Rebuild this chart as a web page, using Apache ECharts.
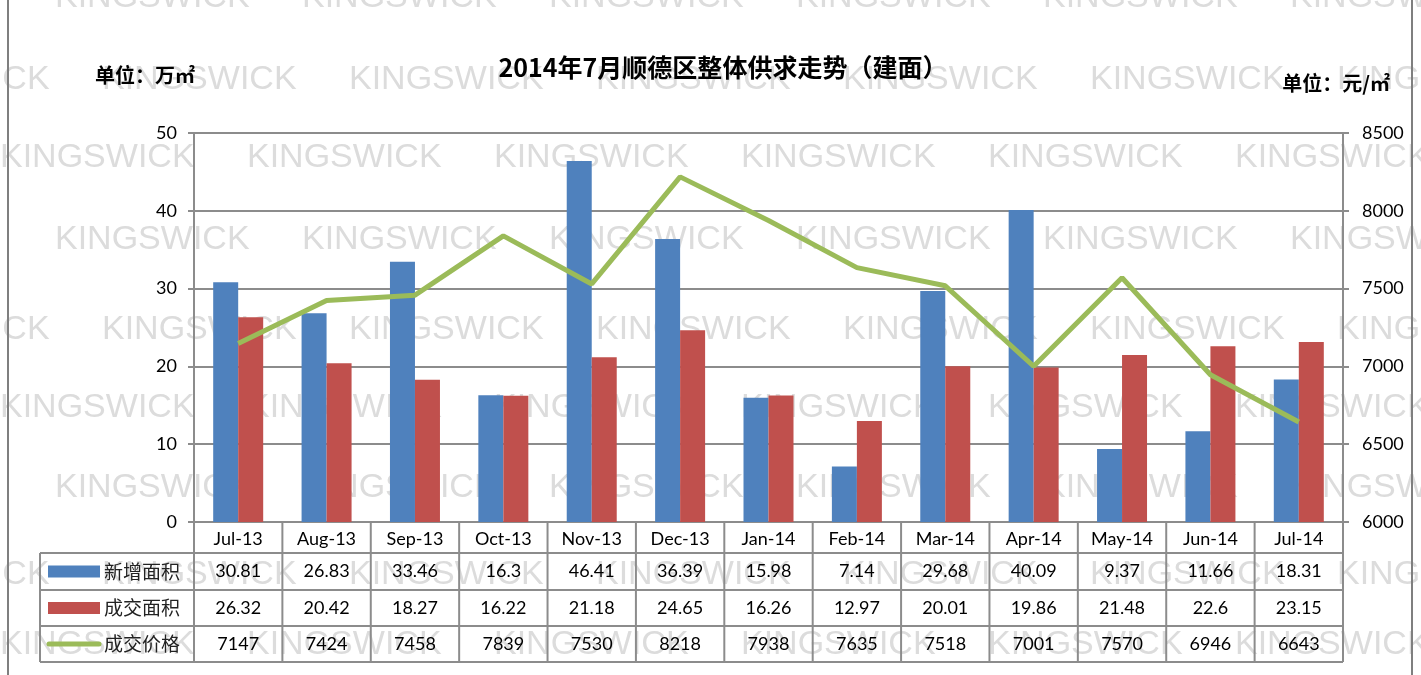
<!DOCTYPE html>
<html lang="zh">
<head>
    <meta charset="UTF-8">
    <script src="https://cdn.jsdelivr.net/npm/echarts@6/dist/echarts.min.js"></script>
    <style>
        html, body { margin: 0; padding: 0; background: #fff; }
        #main { width: 1421px; height: 675px; }
    </style>
</head>
<body>
<div id="main"></div>
<script>
    // 月份
    var months = ['Jul-13', 'Aug-13', 'Sep-13', 'Oct-13', 'Nov-13', 'Dec-13', 'Jan-14',
        'Feb-14', 'Mar-14', 'Apr-14', 'May-14', 'Jun-14', 'Jul-14'];
    // 新增面积（万㎡）
    var newArea = [30.81, 26.83, 33.46, 16.3, 46.41, 36.39, 15.98, 7.14, 29.68, 40.09, 9.37, 11.66, 18.31];
    // 成交面积（万㎡）
    var dealArea = [26.32, 20.42, 18.27, 16.22, 21.18, 24.65, 16.26, 12.97, 20.01, 19.86, 21.48, 22.6, 23.15];
    // 成交价格（元/㎡）
    var dealPrice = [7147, 7424, 7458, 7839, 7530, 8218, 7938, 7635, 7518, 7001, 7570, 6946, 6643];
    var seriesNames = ['新增面积', '成交面积', '成交价格'];

    var BLUE = '#4F81BD', RED = '#C0504D', GREEN = '#9BBB59';
    var LINE = '#8c8c8c';
    var FONT = 'Lato, "Open Sans", sans-serif';
    var CJK = '"Noto Sans CJK SC", sans-serif';

    // 版面
    var GL = 194, GR = 1343, GT = 133, GB = 522;
    var step = (GR - GL) / months.length;
    var rowTops = [553, 590, 626, 662];
    var tableLeft = 40;

    var graphics = [];

    // 水印 KINGSWICK
    var wmRows = [[-2, 55], [80, -145], [158, 0], [240, 55], [330, -145], [408, 0], [488, 55], [575, -145], [645, 0]];
    wmRows.forEach(function (r) {
        for (var x = r[1]; x < 1421; x += 247) {
            graphics.push({
                type: 'text', z: -10, silent: true,
                x: x, y: r[0],
                style: {
                    text: 'KINGSWICK', fill: '#dcdcdc',
                    font: '34px "Liberation Sans", Arial, sans-serif',
                    textVerticalAlign: 'middle'
                }
            });
        }
    });

    // 外框左右线
    graphics.push({type: 'line', z: 50, shape: {x1: 8, y1: 0, x2: 8, y2: 675}, style: {stroke: '#7f7f7f', lineWidth: 2}});
    graphics.push({type: 'line', z: 50, shape: {x1: 1412, y1: 0, x2: 1412, y2: 675}, style: {stroke: '#7f7f7f', lineWidth: 2}});

    // 单位
    graphics.push({type: 'text', z: 50, x: 95, y: 75, style: {text: '单位：万㎡', fill: '#000', font: 'bold 20px ' + CJK, textVerticalAlign: 'middle'}});
    graphics.push({type: 'text', z: 50, x: 1390, y: 83, style: {text: '单位：元/㎡', fill: '#000', font: 'bold 20px ' + CJK, textAlign: 'right', textVerticalAlign: 'middle'}});

    // 数据表 线
    function hline(x1, x2, y) {
        graphics.push({type: 'line', z: 50, shape: {x1: x1, y1: y, x2: x2, y2: y}, style: {stroke: LINE, lineWidth: 2}});
    }
    function vline(x, y1, y2) {
        graphics.push({type: 'line', z: 50, shape: {x1: x, y1: y1, x2: x, y2: y2}, style: {stroke: LINE, lineWidth: 2}});
    }
    rowTops.forEach(function (y) {
        hline(tableLeft, GR, y);
    });
    vline(tableLeft, rowTops[0], rowTops[3]);
    for (var c = 0; c <= months.length; c++) {
        vline(GL + c * step, GB, rowTops[3]);
    }

    // 数据表 内容
    var rows = [newArea, dealArea, dealPrice];
    rows.forEach(function (arr, r) {
        var cy = (rowTops[r] + rowTops[r + 1]) / 2;
        arr.forEach(function (v, i) {
            graphics.push({
                type: 'text', z: 60, x: GL + (i + 0.5) * step, y: cy,
                style: {text: String(v), fill: '#000', font: '18px ' + FONT, textAlign: 'center', textVerticalAlign: 'middle'}
            });
        });
        graphics.push({
            type: 'text', z: 60, x: 104, y: cy,
            style: {text: seriesNames[r], fill: '#222', font: '19px ' + CJK, textVerticalAlign: 'middle'}
        });
    });
    // 图例图标
    graphics.push({type: 'rect', z: 60, shape: {x: 48, y: (rowTops[0] + rowTops[1]) / 2 - 6, width: 52, height: 12}, style: {fill: BLUE}});
    graphics.push({type: 'rect', z: 60, shape: {x: 48, y: (rowTops[1] + rowTops[2]) / 2 - 6, width: 52, height: 12}, style: {fill: RED}});
    graphics.push({type: 'line', z: 60, shape: {x1: 49, y1: (rowTops[2] + rowTops[3]) / 2, x2: 99, y2: (rowTops[2] + rowTops[3]) / 2}, style: {stroke: GREEN, lineWidth: 5, lineCap: 'round'}});

    var chart = echarts.init(document.getElementById('main'));
    var option = {
        backgroundColor: '#fff',
        animation: false,
        title: {
            text: '2014年7月顺德区整体供求走势（建面）',
            left: 718, top: 50, textAlign: 'center',
            textStyle: {fontFamily: CJK, fontWeight: 'bold', fontSize: 25, color: '#000'}
        },
        grid: {left: GL, right: 1421 - GR, top: GT, bottom: 675 - GB, containLabel: false},
        xAxis: {
            type: 'category',
            data: months,
            axisLine: {show: true, lineStyle: {color: LINE, width: 2}},
            axisTick: {show: false},
            axisLabel: {margin: 8, fontSize: 18, fontFamily: FONT, color: '#000'}
        },
        yAxis: [{
            type: 'value', min: 0, max: 50, interval: 10,
            axisLine: {show: true, lineStyle: {color: LINE, width: 2}},
            axisTick: {show: true, length: 6, lineStyle: {color: LINE, width: 2}},
            axisLabel: {margin: 17, fontSize: 18, fontFamily: FONT, color: '#000'},
            splitLine: {show: true, lineStyle: {color: LINE, width: 2}}
        }, {
            type: 'value', min: 6000, max: 8500, interval: 500,
            axisLine: {show: true, lineStyle: {color: LINE, width: 2}},
            axisTick: {show: true, length: 6, lineStyle: {color: LINE, width: 2}},
            axisLabel: {margin: 19, fontSize: 18, fontFamily: FONT, color: '#000',
                formatter: function (v) { return String(v); }},
            splitLine: {show: false}
        }],
        series: [{
            name: seriesNames[0], type: 'bar', data: newArea,
            barWidth: 25, barGap: '0%',
            itemStyle: {color: BLUE}
        }, {
            name: seriesNames[1], type: 'bar', data: dealArea,
            barWidth: 25, barGap: '0%',
            itemStyle: {color: RED}
        }, {
            name: seriesNames[2], type: 'line', yAxisIndex: 1, data: dealPrice,
            symbol: 'none', z: 5,
            lineStyle: {color: GREEN, width: 5}
        }],
        graphic: graphics
    };
    chart.setOption(option);
</script>
</body>
</html>
